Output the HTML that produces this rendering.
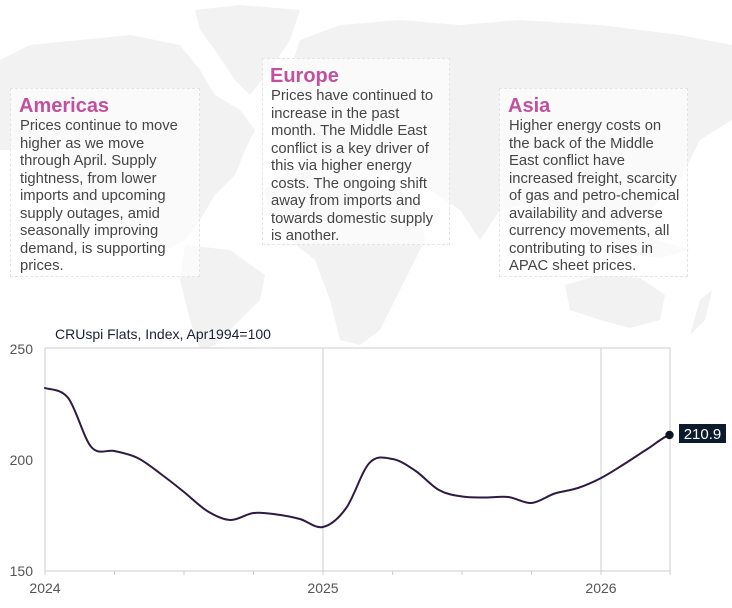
<!DOCTYPE html>
<html>
<head>
<meta charset="utf-8">
<style>
  html,body{margin:0;padding:0;background:#fff;}
  body{width:732px;height:608px;position:relative;overflow:hidden;font-family:"Liberation Sans",Arial,sans-serif;}
  svg{position:absolute;left:0;top:0;}
  .box{position:absolute;border:1px dashed #e4e4e4;background:rgba(255,255,255,0.6);box-sizing:border-box;}
  .h{position:absolute;font-weight:bold;font-size:20px;line-height:24px;color:#c3509f;white-space:nowrap;}
  .t{position:absolute;font-size:14.8px;line-height:17.5px;color:#454545;white-space:nowrap;}
</style>
</head>
<body>
<svg width="732" height="608" viewBox="0 0 732 608">
  <g fill="#f2f2f2">
    <polygon points="0,60 30,45 80,40 130,35 180,45 200,70 215,95 240,110 255,130 245,150 235,175 215,195 200,220 185,240 165,250 150,240 120,230 95,215 70,190 50,160 20,150 0,150"/>
    <polygon points="195,10 240,5 300,10 290,40 270,70 250,95 235,80 215,50 200,30"/>
    <polygon points="300,40 340,25 400,20 460,25 520,20 600,25 680,35 732,45 732,120 700,140 680,180 650,210 620,230 600,215 570,220 540,200 500,210 480,240 460,210 430,190 400,170 370,165 340,170 310,160 290,130 300,100 290,70"/>
    <polygon points="280,175 340,170 390,185 420,210 425,240 410,270 395,300 380,330 360,345 340,340 330,300 315,260 290,240 270,215 265,190"/>
    <polygon points="185,245 230,250 265,275 260,300 240,320 215,345 200,350 190,320 180,280"/>
    <polygon points="565,285 600,275 640,278 665,295 660,320 630,328 600,320 570,310"/>
    <polygon points="580,230 640,235 690,250 660,258 600,250"/>
    <polygon points="700,300 712,290 705,320 690,335"/>
  </g>
  <!-- plot area -->
  <rect x="45" y="348" width="625" height="223" fill="#fff" stroke="#cccccc" stroke-width="1"/>
  <line x1="323" y1="348" x2="323" y2="575" stroke="#cccccc" stroke-width="1"/>
  <line x1="601" y1="348" x2="601" y2="575" stroke="#cccccc" stroke-width="1"/>
  <g stroke="#cccccc" stroke-width="1">
    <line x1="45" y1="571" x2="45" y2="575"/>
    <line x1="114.5" y1="571" x2="114.5" y2="575"/>
    <line x1="184" y1="571" x2="184" y2="575"/>
    <line x1="253.5" y1="571" x2="253.5" y2="575"/>
    <line x1="392.6" y1="571" x2="392.6" y2="575"/>
    <line x1="462" y1="571" x2="462" y2="575"/>
    <line x1="531.6" y1="571" x2="531.6" y2="575"/>
    <line x1="670" y1="571" x2="670" y2="575"/>
  </g>
  <g font-family="Liberation Sans, Arial, sans-serif" font-size="14" fill="#555555">
    <text x="33" y="354" text-anchor="end">250</text>
    <text x="33" y="465" text-anchor="end">200</text>
    <text x="33" y="576" text-anchor="end">150</text>
    <text x="45" y="593" text-anchor="middle">2024</text>
    <text x="323" y="593" text-anchor="middle">2025</text>
    <text x="601" y="593" text-anchor="middle">2026</text>
  </g>
  <text x="55" y="339" font-family="Liberation Sans, Arial, sans-serif" font-size="14" fill="#1c2233">CRUspi Flats, Index, Apr1994=100</text>
  <path fill="none" stroke="#2e1a45" stroke-width="2" stroke-linejoin="round" stroke-linecap="round"
    d="M45,388 C48.9,389.7 60.5,388.2 68.2,398
       C75.9,407.8 83.6,438.2 91.3,447
       C99.0,455.8 106.8,449.2 114.5,451
       C122.2,452.8 130.0,454.2 137.7,458
       C145.4,461.8 153.2,468.3 160.9,474
       C168.6,479.7 176.3,485.8 184,492
       C191.7,498.2 199.5,506.3 207.2,511
       C214.9,515.7 222.7,519.7 230.4,520
       C238.1,520.3 245.8,513.9 253.5,513
       C261.2,512.1 269.0,513.5 276.7,514.5
       C284.4,515.5 292.2,516.9 299.9,519
       C307.6,521.1 315.3,528.8 323,527
       C330.7,525.2 338.5,518.7 346.2,508
       C353.9,497.3 361.7,471.2 369.4,463
       C377.1,454.8 384.9,457.7 392.6,459
       C400.3,460.3 408.0,465.8 415.7,471
       C423.4,476.2 431.2,485.8 438.9,490
       C446.6,494.3 454.4,495.3 462.1,496.5
       C469.8,497.8 477.5,497.4 485.2,497.5
       C492.9,497.6 500.7,496.1 508.4,497
       C516.1,497.9 523.9,503.6 531.6,503
       C539.3,502.4 547.0,496 554.7,493.5
       C562.4,491 570.2,490.6 577.9,488
       C585.6,485.4 593.4,482 601.1,478
       C608.8,474 616.6,468.8 624.3,464
       C632.0,459.2 639.7,453.8 647.4,449
       C655.1,444.2 662.5,437.3 669.5,435"/>
  <circle cx="669.5" cy="435" r="4.2" fill="#0d1525"/>
  <rect x="679" y="424" width="47" height="19" fill="#0b1a2c"/>
  <text x="702.5" y="439" text-anchor="middle" font-family="Liberation Sans, Arial, sans-serif" font-size="15" fill="#ffffff">210.9</text>
</svg>

<div class="box" style="left:10px;top:88px;width:190px;height:189px;"></div>
<div class="box" style="left:262px;top:58px;width:188px;height:187px;"></div>
<div class="box" style="left:499px;top:88px;width:189px;height:189px;"></div>

<div class="h" style="left:19px;top:93.5px;">Americas</div>
<div class="t" style="left:20px;top:118px;">Prices continue to move<br>higher as we move<br>through April. Supply<br>tightness, from lower<br>imports and upcoming<br>supply outages, amid<br>seasonally improving<br>demand, is supporting<br>prices.</div>

<div class="h" style="left:270px;top:63.5px;">Europe</div>
<div class="t" style="left:271px;top:88px;">Prices have continued to<br>increase in the past<br>month. The Middle East<br>conflict is a key driver of<br>this via higher energy<br>costs. The ongoing shift<br>away from imports and<br>towards domestic supply<br>is another.</div>

<div class="h" style="left:508px;top:93.5px;">Asia</div>
<div class="t" style="left:509px;top:118px;">Higher energy costs on<br>the back of the Middle<br>East conflict have<br>increased freight, scarcity<br>of gas and petro-chemical<br>availability and adverse<br>currency movements, all<br>contributing to rises in<br>APAC sheet prices.</div>
</body>
</html>
